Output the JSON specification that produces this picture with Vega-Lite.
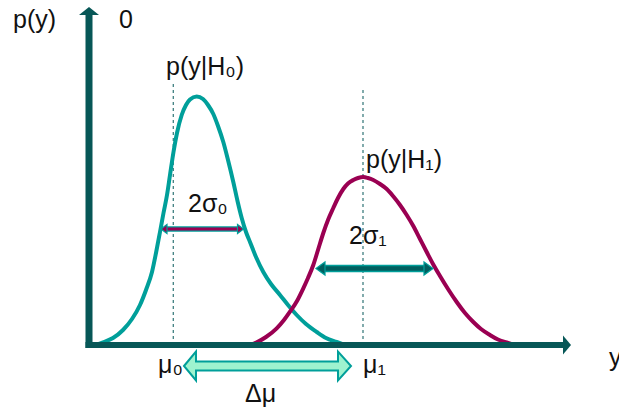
{
  "$schema": "https://vega.github.io/schema/vega-lite/v6.json",
  "width": 619,
  "height": 409,
  "padding": 0,
  "autosize": {"type": "none"},
  "background": "white",
  "config": {"view": {"stroke": null}},
  "datasets": {
    "h0": [
      {"x": 95, "y": 0}, {"x": 103, "y": 2.7}, {"x": 113, "y": 7}, {"x": 123, "y": 15}, {"x": 132, "y": 26},
      {"x": 140, "y": 40}, {"x": 146, "y": 55}, {"x": 152, "y": 73}, {"x": 156, "y": 92}, {"x": 160, "y": 113},
      {"x": 163.5, "y": 132}, {"x": 167, "y": 150}, {"x": 170, "y": 170}, {"x": 173.5, "y": 193}, {"x": 177, "y": 212},
      {"x": 181.7, "y": 230}, {"x": 186, "y": 240}, {"x": 190, "y": 245.5}, {"x": 196.7, "y": 248.5}, {"x": 203, "y": 246},
      {"x": 208, "y": 240}, {"x": 213.3, "y": 231}, {"x": 218, "y": 219}, {"x": 223.3, "y": 203}, {"x": 228, "y": 185},
      {"x": 233.3, "y": 163}, {"x": 237.5, "y": 144}, {"x": 241.7, "y": 127}, {"x": 246, "y": 113}, {"x": 250, "y": 103},
      {"x": 256, "y": 88}, {"x": 263.3, "y": 73}, {"x": 271, "y": 61}, {"x": 280, "y": 50}, {"x": 288, "y": 40},
      {"x": 296.7, "y": 30}, {"x": 306, "y": 21}, {"x": 316.7, "y": 13}, {"x": 326, "y": 7}, {"x": 336.7, "y": 3},
      {"x": 345, "y": 0}
    ],
    "h1": [
      {"x": 250, "y": 0}, {"x": 256.7, "y": 2.7}, {"x": 266, "y": 8}, {"x": 276.7, "y": 16.7}, {"x": 284, "y": 25},
      {"x": 290, "y": 33.3}, {"x": 297, "y": 44}, {"x": 303.3, "y": 56.7}, {"x": 308, "y": 67}, {"x": 313.3, "y": 80},
      {"x": 318, "y": 95}, {"x": 323.3, "y": 112}, {"x": 328, "y": 125}, {"x": 333.3, "y": 137}, {"x": 338, "y": 147},
      {"x": 343.3, "y": 156}, {"x": 348, "y": 161.5}, {"x": 353.3, "y": 165}, {"x": 358, "y": 167}, {"x": 363.3, "y": 168},
      {"x": 368, "y": 167}, {"x": 373.3, "y": 165}, {"x": 380, "y": 161}, {"x": 386.7, "y": 156}, {"x": 393, "y": 149},
      {"x": 400, "y": 140}, {"x": 406.7, "y": 130}, {"x": 413.3, "y": 119}, {"x": 420, "y": 106}, {"x": 426.7, "y": 93},
      {"x": 433, "y": 81}, {"x": 440, "y": 69}, {"x": 448, "y": 56}, {"x": 456.7, "y": 43}, {"x": 465, "y": 32},
      {"x": 473.3, "y": 23}, {"x": 481, "y": 16}, {"x": 490, "y": 10}, {"x": 498, "y": 5.5}, {"x": 506.7, "y": 2.5},
      {"x": 514, "y": 0}
    ],
    "means": [
      {"x": 173.3, "y": 0, "y2": 262},
      {"x": 363, "y": 0, "y2": 257}
    ],
    "sigma0": [{"x": 164, "x2": 240.5, "y": 116}],
    "sigma0Heads": [{"x": 164, "y": 116, "k": "s0l"}, {"x": 240.5, "y": 116, "k": "s0r"}],
    "sigma1": [{"x": 320.5, "x2": 428.5, "y": 76.5}],
    "sigma1Heads": [{"x": 320.5, "y": 76.5, "k": "s1l"}, {"x": 428.5, "y": 76.5, "k": "s1r"}],
    "yAxis": [{"x": 89, "y": -3, "y2": 333}],
    "xAxis": [{"x": 85.5, "x2": 564, "y": 0}],
    "axisHeads": [{"x": 89, "y": 334, "k": "up"}, {"x": 567, "y": 0, "k": "right"}],
    "delta": [
      {"x": 184, "y": -21, "y2": -21},
      {"x": 196, "y": -6.5, "y2": -35.5},
      {"x": 196, "y": -16.5, "y2": -25.5},
      {"x": 338, "y": -16.5, "y2": -25.5},
      {"x": 338, "y": -6.5, "y2": -35.5},
      {"x": 351, "y": -21, "y2": -21}
    ],
    "labels": [
      {"x": 13, "y": 317, "t": "p(y)"},
      {"x": 119, "y": 317, "t": "0"},
      {"x": 166, "y": 270, "t": "p(y|H₀)"},
      {"x": 366, "y": 177, "t": "p(y|H₁)"},
      {"x": 188, "y": 133, "t": "2σ₀"},
      {"x": 349, "y": 101, "t": "2σ₁"},
      {"x": 158, "y": -28, "t": "μ₀"},
      {"x": 363, "y": -28, "t": "μ₁"},
      {"x": 245, "y": -57, "t": "Δμ"},
      {"x": 609, "y": -21, "t": "y"}
    ]
  },
  "encoding": {
    "x": {"field": "x", "type": "quantitative", "scale": {"domain": [0, 619], "nice": false, "zero": false}, "axis": null},
    "y": {"field": "y", "type": "quantitative", "scale": {"domain": [-64, 345], "nice": false, "zero": false}, "axis": null}
  },
  "layer": [
    {
      "data": {"name": "means"},
      "mark": {"type": "rule", "color": "#3f7f80", "strokeWidth": 1.3, "strokeDash": [3, 3]},
      "encoding": {"y2": {"field": "y2"}}
    },
    {
      "data": {"name": "h0"},
      "mark": {"type": "line", "color": "#009f9a", "strokeWidth": 4, "interpolate": "monotone"},
      "encoding": {}
    },
    {
      "data": {"name": "h1"},
      "mark": {"type": "line", "color": "#9a0052", "strokeWidth": 4, "interpolate": "monotone"},
      "encoding": {}
    },
    {
      "data": {"name": "sigma0"},
      "mark": {"type": "rule", "color": "#009f9a", "strokeWidth": 5.5},
      "encoding": {"x2": {"field": "x2"}}
    },
    {
      "data": {"name": "sigma0"},
      "mark": {"type": "rule", "color": "#9a0052", "strokeWidth": 3},
      "encoding": {"x2": {"field": "x2"}}
    },
    {
      "data": {"name": "sigma0Heads"},
      "mark": {"type": "point", "filled": true, "fill": "#9a0052", "stroke": "#009f9a", "strokeWidth": 1.2, "opacity": 1, "size": 400},
      "encoding": {
        "shape": {"field": "k", "type": "nominal", "legend": null,
          "scale": {"domain": ["s0l", "s0r", "s1l", "s1r", "up", "right"],
            "range": ["M-0.3,0L0.3,-0.45L0.3,0.45Z", "M0.3,0L-0.3,-0.45L-0.3,0.45Z", "M-0.45,0L0.45,-0.65L0.45,0.65Z", "M0.45,0L-0.45,-0.65L-0.45,0.65Z", "M0,-0.4L1,0.4L-1,0.4Z", "M0.4,0L-0.4,-0.95L-0.4,0.95Z"]}}
      }
    },
    {
      "data": {"name": "sigma1"},
      "mark": {"type": "rule", "color": "#009f9a", "strokeWidth": 7.5},
      "encoding": {"x2": {"field": "x2"}}
    },
    {
      "data": {"name": "sigma1"},
      "mark": {"type": "rule", "color": "#005f5f", "strokeWidth": 4.5},
      "encoding": {"x2": {"field": "x2"}}
    },
    {
      "data": {"name": "sigma1Heads"},
      "mark": {"type": "point", "filled": true, "fill": "#005f5f", "stroke": "#009f9a", "strokeWidth": 1.2, "opacity": 1, "size": 400},
      "encoding": {
        "shape": {"field": "k", "type": "nominal", "legend": null,
          "scale": {"domain": ["s0l", "s0r", "s1l", "s1r", "up", "right"],
            "range": ["M-0.3,0L0.3,-0.45L0.3,0.45Z", "M0.3,0L-0.3,-0.45L-0.3,0.45Z", "M-0.45,0L0.45,-0.65L0.45,0.65Z", "M0.45,0L-0.45,-0.65L-0.45,0.65Z", "M0,-0.4L1,0.4L-1,0.4Z", "M0.4,0L-0.4,-0.95L-0.4,0.95Z"]}}
      }
    },
    {
      "data": {"name": "yAxis"},
      "mark": {"type": "rule", "color": "#075757", "strokeWidth": 7},
      "encoding": {"y2": {"field": "y2"}}
    },
    {
      "data": {"name": "xAxis"},
      "mark": {"type": "rule", "color": "#075757", "strokeWidth": 6},
      "encoding": {"x2": {"field": "x2"}}
    },
    {
      "data": {"name": "axisHeads"},
      "mark": {"type": "point", "filled": true, "fill": "#075757", "strokeWidth": 0, "opacity": 1, "size": 400},
      "encoding": {
        "shape": {"field": "k", "type": "nominal", "legend": null,
          "scale": {"domain": ["s0l", "s0r", "s1l", "s1r", "up", "right"],
            "range": ["M-0.3,0L0.3,-0.45L0.3,0.45Z", "M0.3,0L-0.3,-0.45L-0.3,0.45Z", "M-0.45,0L0.45,-0.65L0.45,0.65Z", "M0.45,0L-0.45,-0.65L-0.45,0.65Z", "M0,-0.4L1,0.4L-1,0.4Z", "M0.4,0L-0.4,-0.95L-0.4,0.95Z"]}}
      }
    },
    {
      "data": {"name": "delta"},
      "mark": {"type": "area", "orient": "vertical", "interpolate": "linear", "fill": "#9ef3cf", "stroke": "#009f9a", "strokeWidth": 2, "opacity": 1, "fillOpacity": 1},
      "encoding": {"y2": {"field": "y2"}}
    },
    {
      "data": {"name": "labels"},
      "mark": {"type": "text", "align": "left", "baseline": "alphabetic", "font": "Liberation Sans", "fontSize": 25, "color": "#111111"},
      "encoding": {"text": {"field": "t"}}
    }
  ]
}
